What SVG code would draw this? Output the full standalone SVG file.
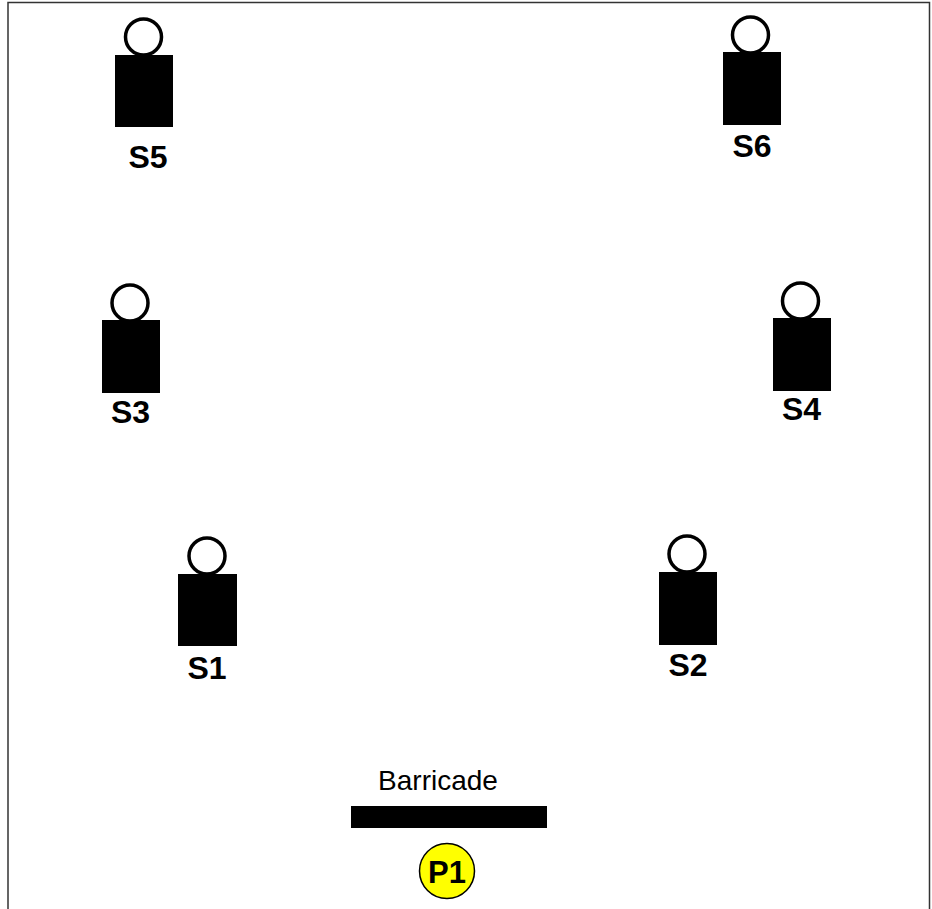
<svg xmlns="http://www.w3.org/2000/svg" width="932" height="909" viewBox="0 0 932 909">
<style>
.body{fill:#000}
.head{fill:#fff;stroke:#000;stroke-width:3.5}
.lab{font-family:"Liberation Sans",Arial,sans-serif;font-size:32px;font-weight:bold;fill:#000;text-anchor:middle}
.frame{fill:none;stroke:#333;stroke-width:1.5}
</style>
<rect width="932" height="909" fill="#fff"/>
<path class="frame" d="M8 909V2.5H929.5V909"/>
<g id="S5"><circle class="head" cx="143.500" cy="37" r="18"/><rect class="body" x="115" y="55" width="58" height="72"/><text class="lab" x="148" y="168">S5</text></g>
<g id="S6"><circle class="head" cx="750.500" cy="35" r="18"/><rect class="body" x="723" y="52" width="58" height="73"/><text class="lab" x="752" y="157">S6</text></g>
<g id="S3"><circle class="head" cx="130" cy="303" r="18"/><rect class="body" x="102" y="320" width="58" height="73"/><text class="lab" x="130.500" y="423">S3</text></g>
<g id="S4"><circle class="head" cx="800.500" cy="301" r="18"/><rect class="body" x="773" y="318" width="58" height="73"/><text class="lab" x="801.500" y="420">S4</text></g>
<g id="S1"><circle class="head" cx="207" cy="556" r="18"/><rect class="body" x="178" y="574" width="59" height="72"/><text class="lab" x="207" y="679">S1</text></g>
<g id="S2"><circle class="head" cx="687" cy="554" r="18"/><rect class="body" x="659" y="572" width="58" height="73"/><text class="lab" x="688" y="676">S2</text></g>
<g id="barricade"><text x="438" y="790" font-family="'Liberation Sans',Arial,sans-serif" font-size="28" text-anchor="middle" fill="#000">Barricade</text><rect x="351" y="806" width="196" height="22" fill="#000"/></g>
<g id="P1"><circle cx="447" cy="871" r="27.500" fill="#ff0" stroke="#000" stroke-width="1.500"/><text class="lab" x="447" y="883" style="font-size:31px">P1</text></g>
<g id="connectors"></g>
</svg>
